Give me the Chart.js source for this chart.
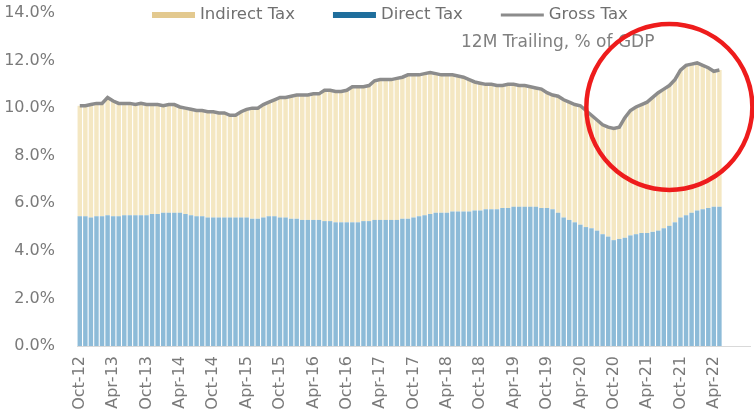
<!DOCTYPE html>
<html>
<head>
<meta charset="utf-8">
<script src="https://cdn.jsdelivr.net/npm/chart.js@4.4.1/dist/chart.umd.min.js"></script>
<style>
  html, body { margin: 0; padding: 0; background: #fff; }
  #wrap { position: relative; width: 754px; height: 418px; }
</style>
</head>
<body>
<div id="wrap"><canvas id="tax-chart" width="754" height="418"></canvas></div>
<script>
// monthly categories, Oct-12 .. Oct-22
const months = [
	'Oct-12','Nov-12','Dec-12',
	'Jan-13','Feb-13','Mar-13','Apr-13','May-13','Jun-13','Jul-13','Aug-13','Sep-13','Oct-13','Nov-13','Dec-13',
	'Jan-14','Feb-14','Mar-14','Apr-14','May-14','Jun-14','Jul-14','Aug-14','Sep-14','Oct-14','Nov-14','Dec-14',
	'Jan-15','Feb-15','Mar-15','Apr-15','May-15','Jun-15','Jul-15','Aug-15','Sep-15','Oct-15','Nov-15','Dec-15',
	'Jan-16','Feb-16','Mar-16','Apr-16','May-16','Jun-16','Jul-16','Aug-16','Sep-16','Oct-16','Nov-16','Dec-16',
	'Jan-17','Feb-17','Mar-17','Apr-17','May-17','Jun-17','Jul-17','Aug-17','Sep-17','Oct-17','Nov-17','Dec-17',
	'Jan-18','Feb-18','Mar-18','Apr-18','May-18','Jun-18','Jul-18','Aug-18','Sep-18','Oct-18','Nov-18','Dec-18',
	'Jan-19','Feb-19','Mar-19','Apr-19','May-19','Jun-19','Jul-19','Aug-19','Sep-19','Oct-19','Nov-19','Dec-19',
	'Jan-20','Feb-20','Mar-20','Apr-20','May-20','Jun-20','Jul-20','Aug-20','Sep-20','Oct-20','Nov-20','Dec-20',
	'Jan-21','Feb-21','Mar-21','Apr-21','May-21','Jun-21','Jul-21','Aug-21','Sep-21','Oct-21','Nov-21','Dec-21',
	'Jan-22','Feb-22','Mar-22','Apr-22','May-22','Jun-22','Jul-22','Aug-22','Sep-22','Oct-22'
];

// labels shown on the x axis (every 6 months)
const tickLabels = ['Oct-12','Apr-13','Oct-13','Apr-14','Oct-14','Apr-15','Oct-15','Apr-16','Oct-16','Apr-17',
	'Oct-17','Apr-18','Oct-18','Apr-19','Oct-19','Apr-20','Oct-20','Apr-21','Oct-21','Apr-22'];

// 12M trailing, % of GDP (Oct-12 .. May-22)
const directTax = [
	5.45,5.45,5.4,5.45,5.45,5.5,5.45,5.45,5.5,5.5,5.5,5.5,
	5.5,5.55,5.55,5.6,5.6,5.6,5.6,5.55,5.5,5.45,5.45,5.4,
	5.4,5.4,5.4,5.4,5.4,5.4,5.4,5.35,5.35,5.4,5.45,5.45,
	5.4,5.4,5.35,5.35,5.3,5.3,5.3,5.3,5.25,5.25,5.2,5.2,
	5.2,5.2,5.2,5.25,5.25,5.3,5.3,5.3,5.3,5.3,5.35,5.35,
	5.4,5.45,5.5,5.55,5.6,5.6,5.6,5.65,5.65,5.65,5.65,5.7,
	5.7,5.75,5.75,5.75,5.8,5.8,5.85,5.85,5.85,5.85,5.85,5.8,
	5.8,5.75,5.6,5.4,5.3,5.2,5.1,5.0,4.95,4.85,4.7,4.6,
	4.45,4.5,4.55,4.65,4.7,4.75,4.75,4.8,4.85,4.95,5.05,5.2,
	5.4,5.5,5.6,5.7,5.75,5.8,5.85,5.85
];
const indirectTax = [
	4.65,4.65,4.75,4.75,4.75,4.95,4.85,4.75,4.7,4.7,4.65,4.7,
	4.65,4.6,4.6,4.5,4.55,4.55,4.45,4.45,4.45,4.45,4.45,4.45,
	4.45,4.4,4.4,4.3,4.3,4.45,4.55,4.65,4.65,4.75,4.8,4.9,
	5.05,5.05,5.15,5.2,5.25,5.25,5.3,5.3,5.5,5.5,5.5,5.5,
	5.55,5.7,5.7,5.65,5.7,5.85,5.9,5.9,5.9,5.95,5.95,6.05,
	6.0,5.95,5.95,5.95,5.85,5.8,5.8,5.75,5.7,5.65,5.55,5.4,
	5.35,5.25,5.25,5.2,5.15,5.2,5.15,5.1,5.1,5.05,5.0,5.0,
	4.85,4.8,4.9,4.95,4.95,4.95,5.0,4.9,4.75,4.65,4.6,4.6,
	4.7,4.7,5.05,5.25,5.35,5.4,5.5,5.65,5.8,5.85,5.9,6.0,
	6.2,6.3,6.25,6.2,6.05,5.9,5.7,5.75
];
const grossTax = [
	10.1,10.1,10.15,10.2,10.2,10.45,10.3,10.2,10.2,10.2,10.15,10.2,
	10.15,10.15,10.15,10.1,10.15,10.15,10.05,10.0,9.95,9.9,9.9,9.85,
	9.85,9.8,9.8,9.7,9.7,9.85,9.95,10.0,10.0,10.15,10.25,10.35,
	10.45,10.45,10.5,10.55,10.55,10.55,10.6,10.6,10.75,10.75,10.7,10.7,
	10.75,10.9,10.9,10.9,10.95,11.15,11.2,11.2,11.2,11.25,11.3,11.4,
	11.4,11.4,11.45,11.5,11.45,11.4,11.4,11.4,11.35,11.3,11.2,11.1,
	11.05,11.0,11.0,10.95,10.95,11.0,11.0,10.95,10.95,10.9,10.85,10.8,
	10.65,10.55,10.5,10.35,10.25,10.15,10.1,9.9,9.7,9.5,9.3,9.2,
	9.15,9.2,9.6,9.9,10.05,10.15,10.25,10.45,10.65,10.8,10.95,11.2,
	11.6,11.8,11.85,11.9,11.8,11.7,11.55,11.6
];

const yTicks = [0, 2, 4, 6, 8, 10, 12, 14];
const subtitle = '12M Trailing, % of GDP';

Chart.defaults.font.family = '"DejaVu Sans", sans-serif';

// legend + subtitle + highlight ring, drawn straight on the canvas
const overlayPlugin = {
	id: 'overlay',
	afterDraw(chart) {
		const ctx = chart.ctx;
		const items = [
			{ ds: 1, color: '#e3c98f', lw: 6 },
			{ ds: 0, color: '#1f6e9c', lw: 6 },
			{ ds: 2, color: '#8c8c8c', lw: 3 }
		];
		ctx.save();
		ctx.font = '16.5px "DejaVu Sans", sans-serif';
		ctx.textBaseline = 'middle';
		let x = 152;
		const y = 15;
		items.forEach(it => {
			const text = chart.data.datasets[it.ds].label;
			ctx.strokeStyle = it.color;
			ctx.lineWidth = it.lw;
			ctx.beginPath();
			ctx.moveTo(x, y);
			ctx.lineTo(x + 43, y);
			ctx.stroke();
			ctx.fillStyle = '#707070';
			ctx.fillText(text, x + 48, y);
			x += 48 + ctx.measureText(text).width + 38;
		});

		ctx.font = '17px "DejaVu Sans", sans-serif';
		ctx.fillStyle = '#808080';
		ctx.fillText(subtitle, 461, 43);

		// red ring around the recent rebound
		const xs = chart.scales.x, ys = chart.scales.y;
		const cx = xs.getPixelForValue(106);
		const cy = ys.getPixelForValue(10.05);
		ctx.strokeStyle = '#ee1c1c';
		ctx.lineWidth = 4.5;
		ctx.beginPath();
		ctx.ellipse(cx, cy, 83, 83, 0, 0, Math.PI * 2);
		ctx.stroke();
		ctx.restore();
	}
};

const ctxEl = document.getElementById('tax-chart');
const taxChart = new Chart(ctxEl.getContext('2d'), {
	type: 'bar',
	data: {
		labels: months,
		datasets: [
			{
				label: 'Direct Tax',
				data: directTax,
				backgroundColor: '#8dbbd8',
				barPercentage: 0.8,
				categoryPercentage: 1,
				order: 2
			},
			{
				label: 'Indirect Tax',
				data: indirectTax,
				backgroundColor: '#f4e7c2',
				barPercentage: 0.8,
				categoryPercentage: 1,
				order: 2
			},
			{
				type: 'line',
				label: 'Gross Tax',
				data: grossTax,
				stack: 'gross',
				borderColor: '#8c8c8c',
				borderWidth: 3.5,
				pointRadius: 0,
				tension: 0,
				fill: false,
				order: 1
			}
		]
	},
	options: {
		responsive: false,
		animation: false,
		devicePixelRatio: 1,
		layout: { padding: { top: 13, right: 4, left: 0, bottom: 0 } },
		plugins: {
			legend: { display: false },
			tooltip: { enabled: false }
		},
		scales: {
			x: {
				stacked: true,
				grid: { display: false, drawTicks: false },
				border: { display: true, color: '#d9d9d9', width: 1 },
				ticks: {
					autoSkip: false,
					minRotation: 90,
					maxRotation: 90,
					padding: 10,
					color: '#7a7a7a',
					font: { size: 16 },
					callback: function(val, i) {
						const lab = months[i];
						return tickLabels.includes(lab) ? lab : '';
					}
				},
				afterFit: function(scale) {
					scale.height = 72;
					// rotated labels would otherwise eat into the plot width
					scale.paddingLeft = 0;
					scale.paddingRight = 0;
				}
			},
			y: {
				stacked: true,
				min: 0,
				max: 14,
				grid: { display: false, drawTicks: false },
				border: { display: false },
				afterBuildTicks: function(scale) {
					scale.ticks = yTicks.map(v => ({ value: v }));
				},
				ticks: {
					padding: 22,
					color: '#7a7a7a',
					font: { size: 16 },
					callback: v => v.toFixed(1) + '%'
				},
				afterFit: function(scale) {
					scale.width = 77;
					scale.paddingTop = 0;
					scale.paddingBottom = 0;
				}
			}
		}
	},
	plugins: [overlayPlugin]
});
</script>
</body>
</html>
